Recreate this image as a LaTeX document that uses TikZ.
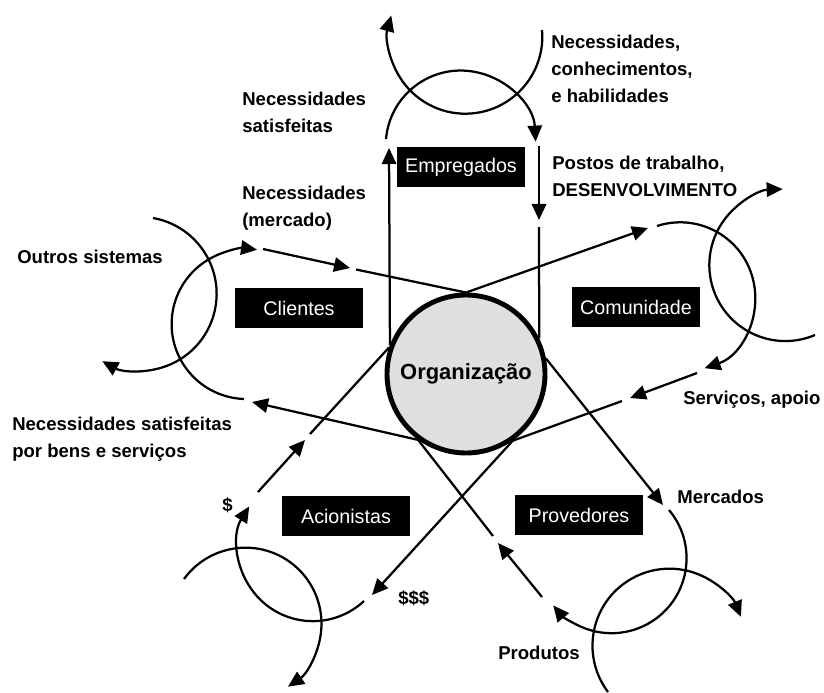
\documentclass[tikz,border=0pt]{standalone}
\usepackage{fontspec}
\setmainfont{Liberation Sans}
\usetikzlibrary{arrows.meta,positioning}

\begin{document}
\begin{tikzpicture}[x=0.25mm,y=0.25mm]
	% One unit is one pixel of the sketch, so y goes down as negative numbers
	\tikzset{>={Triangle[length=4mm,width=3.6mm]},
		fio/.style={line width=1.6pt},
		fluxo/.style={fio,->}, % a line that ends in an arrow
		stake/.style={fill=black,text=white,minimum width=3.2cm,minimum height=1cm,inner sep=0,font=\fontsize{14}{16}\selectfont},
		lbl/.style={anchor=west,align=left,inner sep=0,font=\fontsize{13.2}{19.2}\selectfont\bfseries},
	}
	\useasboundingbox (0,0) rectangle (824,-692);
	% The organisation sits in the middle, every flow starts or ends on its border
	\node[draw,circle,line width=3.5pt,fill=gray!25,minimum size=3.95cm,inner sep=0,font=\fontsize{15.6}{18}\selectfont\bfseries] (org) at (466,-374) {Organização};
	\node[stake] (emp) at (461,-167) {Empregados};
	\node[stake] (cli) at (299,-308) {Clientes};
	\node[stake] (com) at (636,-307) {Comunidade};
	\node[stake] (aci) at (346,-516) {Acionistas};
	\node[stake] (pro) at (579,-515) {Provedores};

	% Empregados: out on the left, loop over the top, back in on the right
	\coordinate (e1) at (389,-148);
	\coordinate (e2) at (386,-139);
	\coordinate (e4) at (539,-146);
	\coordinate (e5) at (539,-220);
	\coordinate (e6) at (539,-227);
	\coordinate (ex) at (542,-30);
	\draw[fluxo] (org.159) -- (e1);
	\draw[fluxo] (e2) arc[start angle=175,end angle=3,radius=75];
	\draw[fluxo] (e4) -- (e5);
	\draw[fio] (e6) -- (org.26);
	% the outer arc is the link to the other systems
	\draw[fluxo] (ex) arc[start angle=5,end angle=-196,radius=77];

	% Clientes
	\coordinate (c1) at (252,-402);
	\coordinate (c2) at (244,-399);
	\coordinate (c4) at (263,-249);
	\coordinate (c5) at (350,-268);
	\coordinate (c6) at (356,-269.5);
	\coordinate (cx) at (153,-218);
	\draw[fluxo] (org.234) -- (c1);
	\draw[fluxo] (c2) arc[start angle=268,end angle=82,radius=75];
	\draw[fluxo] (c4) -- (c5);
	\draw[fio] (c6) -- (org.90);
	\draw[fluxo] (cx) arc[start angle=80,end angle=-119,radius=77];

	% Comunidade
	\coordinate (m1) at (648,-228);
	\coordinate (m2) at (657,-226);
	\coordinate (m4) at (697,-373);
	\coordinate (m5) at (630,-398);
	\coordinate (m6) at (622,-401);
	\coordinate (mx) at (815,-335);
	\draw[fluxo] (org.90) -- (m1);
	\draw[fluxo] (m2) arc[start angle=108,end angle=-71,radius=75];
	\draw[fluxo] (m4) -- (m5);
	\draw[fio] (m6) -- (org.305);
	\draw[fluxo] (mx) arc[start angle=-67,end angle=-268,radius=76];

	% Provedores
	\coordinate (p1) at (663,-505);
	\coordinate (p2) at (669,-510);
	\coordinate (p4) at (542,-597);
	\coordinate (p5) at (498,-543);
	\coordinate (p6) at (493,-536);
	\coordinate (px) at (608,-692);
	\draw[fluxo] (org.11) -- (p1);
	\draw[fluxo] (p2) arc[start angle=40,end angle=-141,radius=75];
	\draw[fluxo] (p4) -- (p5);
	\draw[fio] (p6) -- (org.234);
	\draw[fluxo] (px) arc[start angle=217,end angle=22,radius=77];

	% Acionistas
	\coordinate (a1) at (372,-595);
	\coordinate (a2) at (364,-601);
	\coordinate (a4) at (258,-492);
	\coordinate (a5) at (305,-440);
	\coordinate (a6) at (310,-434);
	\coordinate (ax) at (184,-579);
	\draw[fluxo] (org.305) -- (a1);
	\draw[fluxo] (a2) arc[start angle=-47,end angle=-212,radius=75];
	\draw[fluxo] (a4) -- (a5);
	\draw[fio] (a6) -- (org.161);
	\draw[fluxo] (ax) arc[start angle=144,end angle=-56,radius=76];

	% The labels of the flows
	\node[lbl] (l-nch) at (551,-69) {Necessidades,\\conhecimentos,\\e habilidades};
	\node[lbl] (l-ns) at (242,-112) {Necessidades\\satisfeitas};
	\node[lbl] (l-nm) at (242,-208) {Necessidades\\(mercado)};
	\node[lbl] (l-pt) at (552,-176) {Postos de trabalho,\\DESENVOLVIMENTO};
	\node[lbl] (l-os) at (17,-257) {Outros sistemas};
	\node[lbl] (l-sa) at (683,-400) {Serviços, apoio};
	\node[lbl] (l-nb) at (12,-439) {Necessidades satisfeitas\\por bens e serviços};
	\node[lbl] (l-d1) at (222,-505) {\$};
	\node[lbl] (l-d3) at (398,-598) {\$\$\$};
	\node[lbl] (l-mer) at (677,-497) {Mercados};
	\node[lbl] (l-pro) at (498,-653) {Produtos};
\end{tikzpicture}
\end{document}
